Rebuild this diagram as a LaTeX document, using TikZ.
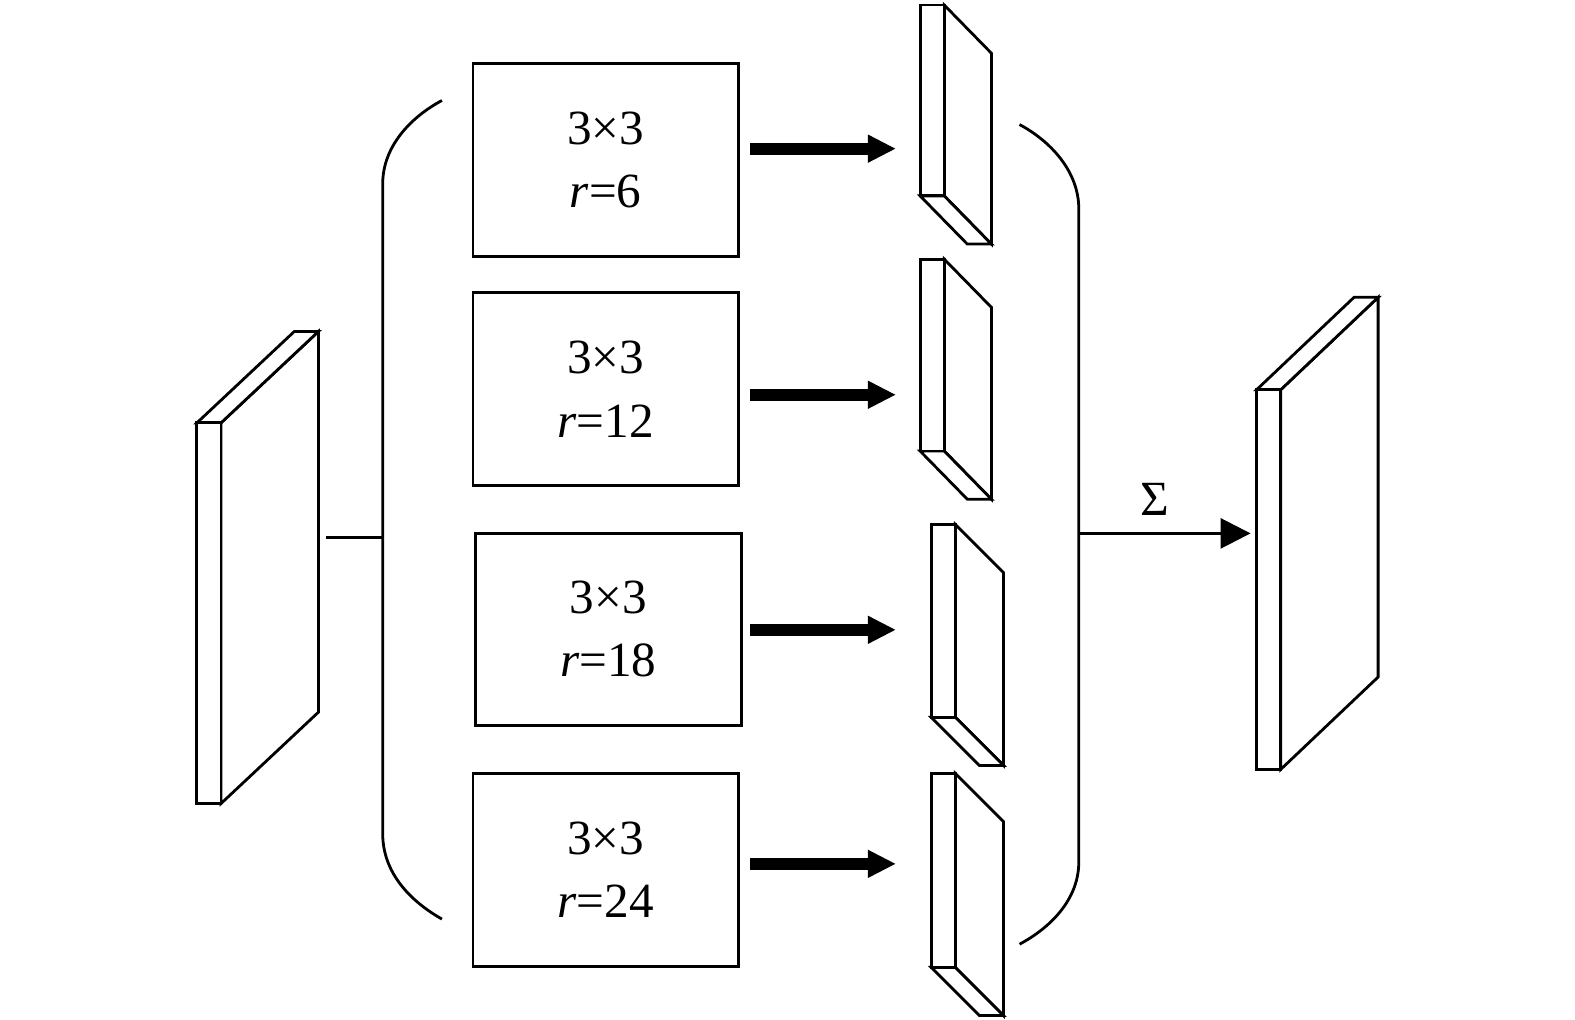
\documentclass[tikz,border=0pt]{standalone}
\usepackage{fontspec}
\setmainfont{Liberation Serif}
\usetikzlibrary{arrows.meta}
% slab seen from above (top face visible): x y h dx dy
\newcommand\slabU[5]{%
  \draw[face] (#1+24,#2) -- ++(#4,#5) -- ++(0,#3) -- (#1+24,#2+#3) -- cycle;
  \draw[face] (#1,#2) -- ++(#4,#5) -- ++(24,0) -- (#1+24,#2) -- cycle;
  \draw[face] (#1,#2) rectangle ++(24,#3);}
% slab seen from below (bottom face visible)
\newcommand\slabD[5]{%
  \draw[face] (#1+24,#2) -- ++(#4,#5) -- ++(0,#3) -- (#1+24,#2+#3) -- cycle;
  \draw[face] (#1,#2+#3) -- ++(#4,#5) -- ++(24,0) -- (#1+24,#2+#3) -- cycle;
  \draw[face] (#1,#2) rectangle ++(24,#3);}
\begin{document}
\begin{tikzpicture}[x=0.50223pt,y=-0.50223pt,line width=1.4pt,line join=miter,
  conv/.style={draw,minimum width=132.6pt,minimum height=96.4pt,inner sep=0pt,align=center,
    font=\fontsize{24.6}{31.6}\selectfont},
  fat/.style={line width=6pt,-{Triangle[length=14pt,width=13pt]}},
  thinarrow/.style={-{Triangle[length=15pt,width=15pt]}},
  face/.style={draw,fill=white}]
\useasboundingbox (0,0) rectangle (1568,1015);

% input and output feature maps
\slabU{196}{421}{379}{97}{-91}
\slabU{1251}{388}{378}{97}{-92}

% branch outputs
\slabD{916}{5}{190}{47}{48}
\slabD{916}{258}{191}{47}{48}
\slabD{927}{522}{192}{48}{48}
\slabD{927}{770}{193}{48}{48}

% convolution boxes
\node[conv] (c1) at (603,159) {3×3\\\textit{r}=6};
\node[conv] (c2) at (603,387.5) {3×3\\\textit{r}=12};
\node[conv,minimum width=133.1pt,minimum height=95.9pt] (c3) at (605.5,626.5) {3×3\\\textit{r}=18};
\node[conv] (c4) at (603,866) {3×3\\\textit{r}=24};

% thick arrows
\coordinate (a1s) at (747,148); \coordinate (a1e) at (892,148);
\coordinate (a2s) at (747,393); \coordinate (a2e) at (892,393);
\coordinate (a3s) at (747,627); \coordinate (a3e) at (892,627);
\coordinate (a4s) at (747,860); \coordinate (a4e) at (892,860);
\draw[fat] (a1s) -- (a1e);
\draw[fat] (a2s) -- (a2e);
\draw[fat] (a3s) -- (a3e);
\draw[fat] (a4s) -- (a4e);

% left brace
\coordinate (inR) at (325,535);
\coordinate (lb) at (381,535);
\draw (inR) -- (lb);
\draw (440,100) .. controls (410,116) and (381,145) .. (381,183) -- (381,830)
      .. controls (381,870) and (410,898) .. (440,915);

% right brace
\draw (1015,124) .. controls (1045,140) and (1074,170) .. (1074,208) -- (1074,858)
      .. controls (1074,896) and (1045,924) .. (1015,940);
\coordinate (rb) at (1074,531);
\coordinate (outL) at (1245,531);
\draw[thinarrow] (rb) -- (outL);
\node[font=\fontsize{24.6}{30}\selectfont] (sig) at (1150,497) {Σ};
\end{tikzpicture}
\end{document}
